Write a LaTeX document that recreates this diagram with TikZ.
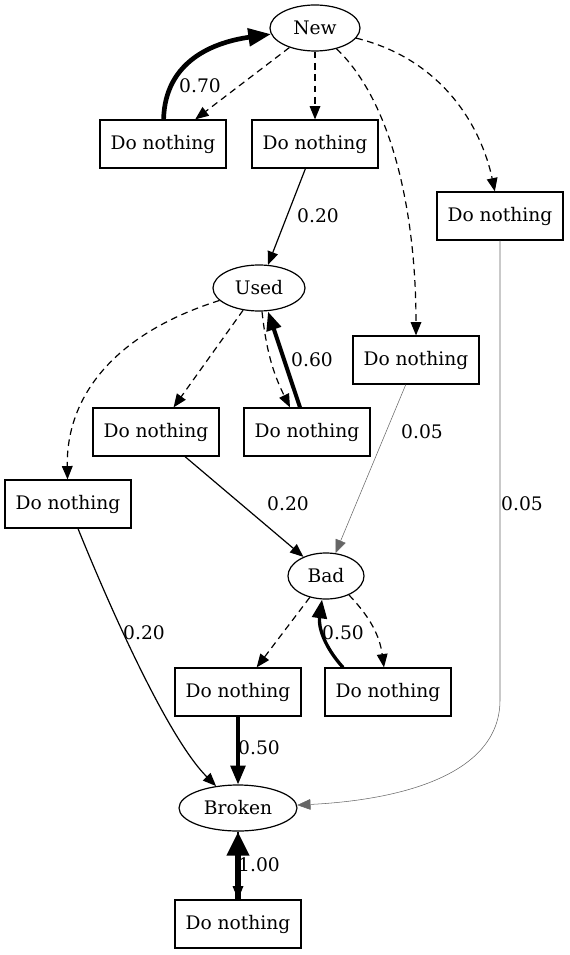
\documentclass[tikz,border=0pt]{standalone}
\usepackage{fontspec}
\setmainfont{DejaVu Serif}
\usetikzlibrary{shapes,arrows.meta,positioning,shapes.geometric}

\begin{document}
\begin{tikzpicture}[x=0.75pt, y=-0.75pt, font=\fontsize{14pt}{16pt}\selectfont]
\tikzstyle{state} = [ellipse, draw, line width=0.9pt, minimum height=34.5pt, inner sep=0pt]
\tikzstyle{action} = [rectangle, draw, line width=0.9pt, minimum width=94.5pt, minimum height=36pt]
\tikzstyle{choice} = [draw, line width=0.9pt, dash pattern=on 5pt off 3.5pt, -{Triangle[length=10pt, width=8pt]}]
\tikzstyle{line} = [draw, line width=0.9pt, -{Triangle[length=10pt, width=8pt]}]
\tikzstyle{faint} = [draw, black!60, line width=0.4pt, -{Triangle[length=10pt, width=8pt]}]
\tikzstyle{heavyA} = [draw, line width=2.5pt, -{Triangle[length=14pt, width=11pt]}]
\tikzstyle{heavyB} = [draw, line width=3pt, -{Triangle[length=14pt, width=11pt]}]
\tikzstyle{heavyC} = [draw, line width=3.5pt, -{Triangle[length=17pt, width=13pt]}]
\tikzstyle{heavyD} = [draw, line width=5pt, -{Triangle[length=18pt, width=16pt]}]
\tikzstyle{prob} = [inner sep=0pt]

\useasboundingbox (0,0) rectangle (569,955);

% States
\node [state, minimum width=67.5pt] (new) at (315,28) {New};
\node [state, minimum width=69pt] (used) at (259,288) {Used};
\node [state, minimum width=57pt] (bad) at (326,576) {Bad};
\node [state, minimum width=88.5pt] (broken) at (238,808) {Broken};

% Actions
\node [action] (newNothingA) at (163,144) {Do nothing};
\node [action] (newNothingB) at (315,144) {Do nothing};
\node [action] (newNothingC) at (500,216) {Do nothing};
\node [action] (newNothingD) at (416,360) {Do nothing};
\node [action] (usedNothingA) at (156,432) {Do nothing};
\node [action] (usedNothingB) at (307,432) {Do nothing};
\node [action] (usedNothingC) at (68,504) {Do nothing};
\node [action] (badNothingA) at (238,692) {Do nothing};
\node [action] (badNothingB) at (388,692) {Do nothing};
\node [action] (brokenNothing) at (238,924) {Do nothing};

% Choices
\draw [choice] (new) -- (newNothingA);
\draw [choice] (new) -- (newNothingB);
\draw [choice] (new) .. controls (395,105) and (416,220) .. (newNothingD);
\draw [choice] (new) .. controls (445,60) and (482,130) .. (newNothingC);
\draw [choice] (used) .. controls (110,335) and (66,400) .. (usedNothingC);
\draw [choice] (used) -- (usedNothingA);
\draw [choice] ([xshift=2.25pt]used.south) to[bend right=10] ([xshift=-12.75pt]usedNothingB.north);
\draw [choice] (bad) -- (badNothingA);
\draw [choice] (bad) to[bend left=18] ([xshift=-3pt]badNothingB.north);
\draw [choice] (broken) -- (brokenNothing);

% Transitions
\coordinate (turnC) at (500,700);
\draw [heavyC] (newNothingA) .. controls (165,60) and (215,42) .. (new);
\draw [line] (newNothingB) -- (used);
\draw [faint] (newNothingC) -- (turnC) .. controls (500,775) and (400,800) .. (broken);
\draw [faint] (newNothingD) -- (bad);
\draw [line] (usedNothingA) -- (bad);
\draw [heavyB] ([xshift=-5.25pt]usedNothingB.north) -- ([xshift=6.75pt]used.south);
\draw [line] ([xshift=7.5pt]usedNothingC.south) .. controls (115,620) and (170,740) .. (broken);
\draw [heavyA] (badNothingA) -- (broken);
\draw [heavyA] ([xshift=-33.75pt]badNothingB.north) to[bend left=25] ([xshift=-3pt]bad.south);
\draw [heavyD] (brokenNothing) -- (broken);

% Probabilities
\node [prob] (pNewA) at (200,86) {0.70};
\node [prob] (pNewB) at (318,216) {0.20};
\node [prob] (pNewC) at (522,504) {0.05};
\node [prob] (pNewD) at (422,432) {0.05};
\node [prob] (pUsedA) at (288,504) {0.20};
\node [prob] (pUsedB) at (312,360) {0.60};
\node [prob] (pUsedC) at (144,633) {0.20};
\node [prob] (pBadA) at (259,748) {0.50};
\node [prob] (pBadB) at (343,633) {0.50};
\node [prob] (pBroken) at (259,865) {1.00};

\end{tikzpicture}
\end{document}
